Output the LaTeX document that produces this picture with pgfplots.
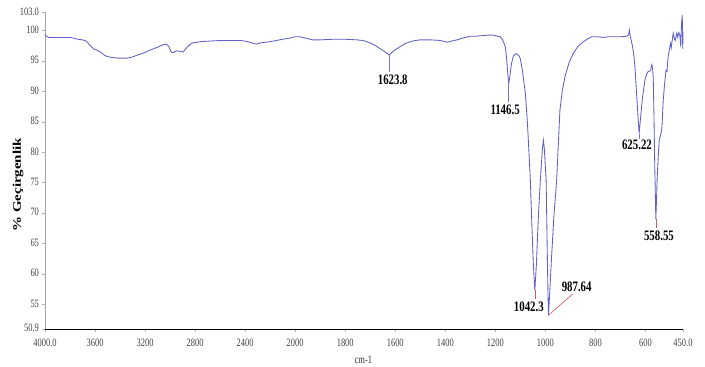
\documentclass[border=0pt]{standalone}
\usepackage{pgfplots}
\pgfplotsset{compat=1.18}
\usepackage{fontspec}
\setmainfont{Liberation Serif}[FakeStretch=0.75]
\newfontfamily\plainserif{Liberation Serif}
\definecolor{spec}{RGB}{96,96,200}
\definecolor{leadb}{RGB}{120,120,190}
\definecolor{leadr}{RGB}{205,90,90}
\begin{document}
\begin{tikzpicture}
\begin{axis}[
  scale only axis, width=638bp, height=316.8bp,
  x dir=reverse,
  xmin=450, xmax=4000, ymin=50.9, ymax=103,
  x coord trafo/.code={\pgfmathparse{#1>2000 ? 2000+(#1-2000)/2 : #1}},
  x coord inv trafo/.code={\pgfmathparse{#1>2000 ? 2000+(#1-2000)*2 : #1}},
  axis x line*=bottom, axis y line*=left,
  x axis line style={black, line width=0.9bp, -},
  y axis line style={gray!70, line width=0.9bp, -},
  tick align=outside, major tick length=2.5bp,
  tick style={gray!60, line width=0.6bp},
  xtick={4000,3600,3200,2800,2400,2000,1800,1600,1400,1200,1000,800,600,450},
  xticklabels={4000.0,3600,3200,2800,2400,2000,1800,1600,1400,1200,1000,800,600,450.0},
  ytick={50.9,55,60,65,70,75,80,85,90,95,100,103},
  yticklabels={50.9,55,60,65,70,75,80,85,90,95,100,103.0},
  ticklabel style={font=\fontsize{11.3}{12}\selectfont, text=black!75},
  xticklabel style={yshift=-3.5bp},
  yticklabel style={yshift=1bp},
  xlabel={cm-1},
  xlabel style={at={(axis description cs:0.499,-0.095)}, anchor=center, font=\fontsize{11.5}{12}\selectfont, text=black!80},
  ylabel={\scalebox{1}[0.78]{\plainserif\bfseries\fontsize{15}{16}\selectfont \% Geçirgenlik}},
  ylabel style={at={(axis description cs:-0.0423,0.456)}, anchor=center},
  clip=false,
]
\addplot[spec, line width=0.85bp] table {
4000 99.4
3990 99.1
3970 98.9
3900 98.9
3800 98.9
3776 98.8
3740 98.6
3700 98.5
3670 98.3
3640 97.6
3610 97.0
3584 96.8
3550 96.4
3520 95.9
3490 95.7
3460 95.6
3420 95.5
3380 95.5
3340 95.5
3300 95.7
3260 96.0
3216 96.3
3160 96.8
3100 97.3
3056 97.7
3030 97.8
3010 97.4
2990 96.5
2975 96.4
2950 96.7
2920 96.6
2896 96.5
2860 97.4
2824 98.0
2760 98.2
2680 98.3
2600 98.4
2521 98.4
2440 98.4
2400 98.3
2360 98.1
2330 97.9
2308 97.8
2280 98.0
2240 98.1
2201 98.2
2150 98.4
2100 98.6
2040 98.8
2000 99.0
1981 99.0
1960 98.8
1930 98.5
1900 98.5
1848 98.6
1800 98.6
1753 98.5
1730 98.4
1713 98.2
1690 97.8
1673 97.4
1655 96.9
1640 96.5
1623.8 96.0
1610 96.6
1595 97.0
1580 97.4
1560 97.9
1540 98.2
1520 98.4
1500 98.5
1460 98.5
1420 98.4
1400 98.2
1393 98.1
1375 98.3
1353 98.5
1330 98.8
1300 99.1
1280 99.1
1250 99.2
1217 99.3
1200 99.2
1190 99.1
1180 99.0
1172 98.6
1165 97.9
1160 97.3
1155 95.5
1150 92.8
1146.5 91.3
1142 92.5
1136 94.5
1128 95.8
1120 96.2
1114 96.2
1106 95.9
1100 95.4
1092 93.5
1085 91.3
1080 89.7
1072 85.0
1065 79.5
1060 75.4
1054 68.0
1048 61.5
1042.3 57.3
1036 61.5
1028 69.5
1020 75.5
1012 80.5
1008 82.0
1004 80.5
1000 77.5
997 75.4
993 65.0
990 57.5
987.64 53.2
984 56.0
975 63.0
966 69.5
955 75.4
948 81.5
942 86.9
932 90.2
922 92.4
905 94.8
888 96.3
870 97.4
848 98.2
830 98.7
815 99.0
790 99.0
768 98.9
750 99.0
728 99.0
700 99.0
675 99.1
668 99.3
664 100.1
661 99.0
659 98.8
652 97.5
646 95.8
642 94.1
636 90.0
630 86.0
625.22 83.1
620 85.5
612 89.0
602 91.9
595 92.9
589 93.3
580 93.4
575 94.4
572 94.0
569 92.4
566 86.0
563 78.0
560 72.0
558.55 69.0
556 72.0
553 76.0
548 80.0
545 82.0
542 82.5
538 83.1
534 84.2
529 88.6
523 91.5
518 93.5
514 93.3
510 95.5
505 96.8
500 97.9
497 97.2
493 98.5
489 99.6
485 98.8
481 98.4
477 99.3
475 99.6
471 98.9
467 99.7
463 99.4
459 97.4
456 101.0
453 102.6
451 97.0
450 99.8
};
% annotations
\draw[leadb, line width=0.6bp] (axis cs:1623.8,96.0) -- (axis cs:1623.8,93.2);
\node[font=\bfseries\fontsize{14.5}{15}\selectfont, inner sep=0pt] at (axis cs:1610,91.9) {1623.8};
\draw[leadb, line width=0.6bp] (axis cs:1146.5,91.3) -- (axis cs:1146.5,88.2);
\node[font=\bfseries\fontsize{14.5}{15}\selectfont, inner sep=0pt] at (axis cs:1161,87.0) {1146.5};
\draw[leadb, line width=0.6bp] (axis cs:625.22,83.1) -- (axis cs:625.22,82.2);
\node[font=\bfseries\fontsize{14.5}{15}\selectfont, inner sep=0pt] at (axis cs:634,81.2) {625.22};
\draw[leadr, line width=0.6bp] (axis cs:558.55,69.0) -- (axis cs:558.55,67.5);
\node[font=\bfseries\fontsize{14.5}{15}\selectfont, inner sep=0pt] at (axis cs:546,66.2) {558.55};
\draw[leadr, line width=0.6bp] (axis cs:1042.3,57.3) -- (axis cs:1042.3,55.9);
\node[font=\bfseries\fontsize{14.5}{15}\selectfont, inner sep=0pt] at (axis cs:1066,54.6) {1042.3};
\draw[leadr, line width=0.6bp] (axis cs:987.64,53.2) -- (axis cs:891,56.7);
\node[font=\bfseries\fontsize{14.5}{15}\selectfont, inner sep=0pt] at (axis cs:875,57.9) {987.64};
\coordinate (SW) at (rel axis cs:0,0);
\coordinate (NE) at (rel axis cs:1,1);
\end{axis}
\pgfresetboundingbox
\path ([shift={(-45bp,-37bp)}]SW) rectangle ([shift={(22bp,12.5bp)}]NE);
\end{tikzpicture}
\end{document}
